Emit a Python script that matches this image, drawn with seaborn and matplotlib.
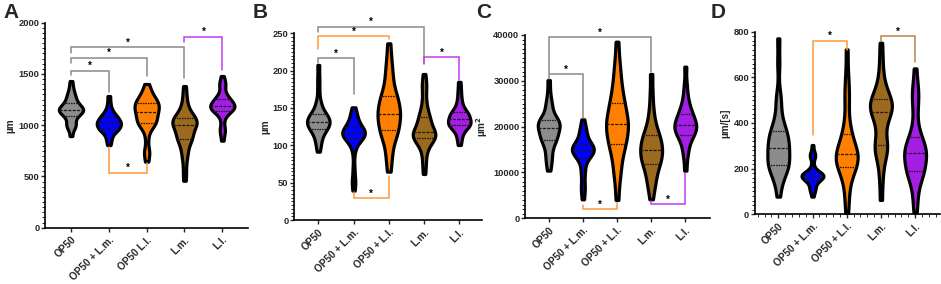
import numpy as np
import pandas as pd
import matplotlib
matplotlib.use("Agg")
import matplotlib.pyplot as plt
import seaborn as sns
from matplotlib.ticker import MultipleLocator, AutoMinorLocator

sns.set_style("ticks")
plt.rcParams["font.family"] = ["Liberation Sans", "DejaVu Sans"]
plt.rcParams["font.weight"] = "bold"

groups = ["OP50", "OP50 + L.m.", "OP50 + L.l.", "L.m.", "L.l."]
labels_A = ["OP50", "OP50 + L.m.", "OP50 L.l.", "L.m.", "L.l."]
labels_BCD = ["OP50", "OP50 + L.m.", "OP50 + L.l.", "L.m.", "L.l."]

# ---- Panel A: length (µm)
A_op50 = [894, 960, 990, 1000, 1010, 1040, 1070, 1090, 1100, 1110, 1120, 1130, 1140, 1145, 1150,
          1152, 1160, 1165, 1175, 1185, 1195, 1210, 1220, 1240, 1260, 1280, 1300, 1330, 1370, 1431]
A_op50_lm = [806, 850, 880, 910, 930, 945, 955, 960, 965, 975, 985, 995, 1005, 1012, 1016,
             1020, 1025, 1035, 1045, 1055, 1065, 1072, 1078, 1090, 1105, 1120, 1140, 1170, 1220, 1285]
A_op50_ll = [644, 730, 750, 870, 960, 990, 1010, 1025, 1030, 1040, 1060, 1080, 1100, 1115, 1125,
             1132, 1150, 1165, 1180, 1195, 1205, 1210, 1215, 1230, 1250, 1270, 1290, 1310, 1350, 1402]
A_lm = [458, 560, 660, 720, 760, 810, 850, 868, 875, 885, 905, 930, 960, 980, 995,
        1001, 1010, 1020, 1030, 1040, 1050, 1068, 1075, 1085, 1100, 1130, 1170, 1220, 1290, 1382]
A_ll = [849, 920, 950, 980, 1050, 1100, 1125, 1135, 1143, 1150, 1160, 1170, 1175, 1180, 1185,
        1189, 1195, 1205, 1215, 1225, 1240, 1250, 1257, 1270, 1290, 1320, 1380, 1400, 1420, 1480]

# ---- Panel B: width (µm)
B_op50 = [91.5, 100, 105, 110, 115, 118, 120, 122, 123, 125, 127, 128, 129, 130, 131,
          132.5, 134, 135, 137, 138, 140, 141, 142, 145, 150, 155, 160, 175, 190, 207.6]
B_op50_lm = [39.3, 50, 55, 70, 90, 100, 105, 108, 109, 110, 112, 113, 114, 115, 115.5,
             116.5, 117, 118, 119, 120, 122, 123, 124.5, 127, 130, 133, 137, 140, 145, 150.9]
B_op50_ll = [64.7, 80, 90, 100, 108, 113, 117, 120, 121, 125, 130, 134, 137, 140, 142,
             143, 146, 150, 154, 158, 162, 164, 166, 172, 180, 188, 196, 206, 218, 236.6]
B_lm = [61.6, 75, 85, 95, 100, 104, 107, 109, 110, 111, 112, 114, 115, 116, 117,
        118, 120, 123, 127, 130, 134, 136, 138, 142, 148, 155, 165, 178, 182, 195.5]
B_ll = [100.4, 108, 113, 118, 121, 123, 125, 126.5, 127, 128, 129, 130, 131, 133, 134,
        135.5, 137, 138, 140, 141, 142.5, 143.5, 145, 148, 150, 155, 160, 167, 175, 185]

# ---- Panel C: area (µm²)
C_op50 = [10400, 12000, 13000, 14000, 15000, 16000, 16800, 17100, 17300, 17500, 18000, 18500, 19000, 19300, 19500,
          19800, 20100, 20400, 20700, 21000, 21200, 21400, 21500, 22000, 22800, 23800, 24800, 25500, 27500, 30182]
C_op50_lm = [4145, 6000, 6800, 8500, 10000, 11000, 12200, 13200, 13400, 13700, 14000, 14200, 14500, 14700, 14850,
             14950, 15100, 15300, 15500, 15800, 16000, 16150, 16300, 16800, 17500, 18200, 18800, 19300, 20200, 21600]
C_op50_ll = [4000, 8000, 10000, 11500, 13000, 14500, 15500, 16100, 16500, 17200, 18000, 18800, 19500, 20000, 20300,
             20700, 21200, 21800, 22500, 23300, 24200, 25000, 25300, 26500, 27800, 29000, 30500, 32500, 34500, 38545]
C_lm = [4145, 6500, 7500, 8500, 9500, 10500, 11200, 11800, 12100, 12600, 13100, 13600, 14000, 14500, 14800,
        15100, 15500, 16000, 16500, 17000, 17500, 18000, 18200, 19000, 20000, 21000, 22500, 24500, 27500, 31490]
C_ll = [10400, 13000, 14500, 15500, 16500, 17300, 17800, 18100, 18400, 18800, 19200, 19500, 19800, 20000, 20200,
        20400, 20700, 21000, 21400, 21800, 22300, 22700, 22900, 23500, 24200, 25000, 26000, 27500, 29500, 33090]

# ---- Panel D: speed (µm/[s])
D_op50 = [77.4, 130, 160, 185, 200, 205, 210, 214, 218, 230, 245, 260, 272, 282, 290,
          294, 305, 318, 330, 342, 352, 362, 368, 385, 410, 450, 500, 520, 660, 770.8]
D_op50_lm = [77.4, 100, 110, 115, 125, 140, 145, 148, 152, 156, 160, 163, 165, 167, 168,
             168.5, 170, 172, 175, 178, 180, 183, 186, 195, 215, 245, 255, 262, 270, 303.6]
D_op50_ll = [0, 60, 100, 140, 170, 190, 200, 205, 210, 220, 235, 245, 252, 258, 262,
             264, 270, 280, 290, 305, 325, 345, 352, 380, 420, 480, 520, 560, 620, 722.6]
D_lm = [62.8, 150, 200, 250, 270, 280, 290, 300, 315, 340, 370, 400, 420, 435, 445,
        453, 460, 468, 475, 483, 490, 497, 505, 515, 530, 550, 580, 620, 680, 751.8]
D_ll = [7.3, 60, 100, 140, 160, 175, 185, 188, 195, 210, 225, 240, 252, 260, 265,
        269, 275, 285, 295, 310, 325, 335, 342, 380, 430, 480, 510, 540, 570, 639.4]

# significance brackets: (group i, group j, bar level, end at i, end at j, colour key)
brackets_A = [(0, 1, 1532, 1489, 1327, "gray"), (0, 2, 1658, 1603, 1480, "gray"),
              (0, 3, 1759, 1700, 1457, "gray"), (3, 4, 1863, 1808, 1538, "purple"),
              (1, 2, 537, 790, 628, "orange")]
brackets_B = [(0, 3, 258.9, 252, 209.8, "gray"), (0, 2, 246.4, 228.6, 242, "orange"),
              (0, 1, 216.5, 209.8, 168.8, "gray"), (3, 4, 217.9, 208.5, 187.5, "purple"),
              (1, 2, 29, 38, 59, "orange")]
brackets_C = [(0, 3, 39490, 31636, 32000, "gray"), (0, 1, 31490, 30327, 21818, "gray"),
              (1, 2, 1963, 2900, 3418, "orange"), (3, 4, 3054, 3780, 9818, "purple")]
brackets_D = [(1, 2, 760.6, 347, 720, "orange"), (3, 4, 781, 760, 668.6, "brown")]

fill_colors = ["#8c8c8c", "#0000ff", "#ff8000", "#9c6a1e", "#a51ee6"]
bracket_colors = {"gray": "#8a8a8a", "orange": "#ff9a3c", "purple": "#c23cf0", "brown": "#b8864a"}

panels = [
    dict(letter="A", data=[A_op50, A_op50_lm, A_op50_ll, A_lm, A_ll], labels=labels_A,
         ylabel="µm", ylim=(0, 2000), major=500, brackets=brackets_A,
         rect=(45, 248, 22.7, 227.7), x0=71, dx=37.83, letter_x=3, minor_x=False),
    dict(letter="B", data=[B_op50, B_op50_lm, B_op50_ll, B_lm, B_ll], labels=labels_BCD,
         ylabel="µm", ylim=(0, 250), major=50, brackets=brackets_B,
         rect=(294, 482, 33.3, 220), x0=318.3, dx=35.25, letter_x=253, minor_x=False),
    dict(letter="C", data=[C_op50, C_op50_lm, C_op50_ll, C_lm, C_ll], labels=labels_BCD,
         ylabel="µm$^{\\mathbf{2}}$", ylim=(0, 40000), major=10000, brackets=brackets_C,
         rect=(525, 710, 35, 218.3), x0=548.7, dx=34.15, letter_x=476, minor_x=False),
    dict(letter="D", data=[D_op50, D_op50_lm, D_op50_ll, D_lm, D_ll], labels=labels_BCD,
         ylabel="µm/[s]", ylim=(0, 800), major=200, brackets=brackets_D,
         rect=(754.7, 940, 31.7, 214.3), x0=778.3, dx=34.2, letter_x=711, minor_x=True),
]

W, H = 941, 284
fig = plt.figure(figsize=(W / 100, H / 100), dpi=100)

for p in panels:
    l, r, t, b = p["rect"]
    ax = fig.add_axes([l / W, 1 - b / H, (r - l) / W, (b - t) / H])
    rows = []
    for g, vals in zip(groups, p["data"]):
        for v in vals:
            rows.append((g, v))
    df = pd.DataFrame(rows, columns=["group", "value"])
    sns.violinplot(data=df, x="group", y="value", hue="group", order=groups, hue_order=groups,
                   palette=fill_colors, legend=False, inner="quart", cut=0,
                   density_norm="width", width=0.64, linewidth=2.3, linecolor="black",
                   bw_adjust=0.6, saturation=1, inner_kws=dict(linewidth=0.9, color="#1a1a1a"),
                   ax=ax)
    ax.set_xlim((l - p["x0"]) / p["dx"], (r - p["x0"]) / p["dx"])
    ax.set_ylim(*p["ylim"])
    ax.yaxis.set_major_locator(MultipleLocator(p["major"]))
    ax.yaxis.set_minor_locator(AutoMinorLocator(10))
    if p["minor_x"]:
        ax.xaxis.set_minor_locator(MultipleLocator(0.2))
    ax.set_xticks(range(len(groups)))
    ax.set_xticklabels(p["labels"], rotation=45, ha="right", rotation_mode="anchor",
                       fontsize=7.2, fontweight="bold")
    for lab in ax.get_yticklabels():
        lab.set_fontweight("bold")
    ax.tick_params(axis="y", labelsize=6.7, length=3, width=1, pad=1)
    ax.tick_params(axis="y", which="minor", length=2, width=0.7)
    ax.tick_params(axis="x", which="major", length=3, width=1, pad=2)
    ax.tick_params(axis="x", which="minor", length=2, width=0.7)
    ax.set_xlabel("")
    ax.set_ylabel(p["ylabel"], fontsize=7.2, fontweight="bold", labelpad=2)
    sns.despine(ax=ax)
    for s in ["left", "bottom"]:
        ax.spines[s].set_linewidth(1.2)
        ax.spines[s].set_color("black")
    for (i, j, yh, yi, yj, ck) in p["brackets"]:
        c = bracket_colors[ck]
        ax.plot([i, i, j, j], [yi, yh, yh, yj], color=c, linewidth=1.1, clip_on=False,
                solid_joinstyle="miter")
        ax.annotate("*", ((i + j) / 2, yh), xytext=(0, 3.2), textcoords="offset points",
                    ha="center", va="center", fontsize=7, fontweight="bold", color="black",
                    annotation_clip=False)
    fig.text(p["letter_x"] / W, 1 - 3 / H, p["letter"], fontsize=15, fontweight="bold",
             ha="left", va="top")

fig.savefig("out.png", dpi=100)
